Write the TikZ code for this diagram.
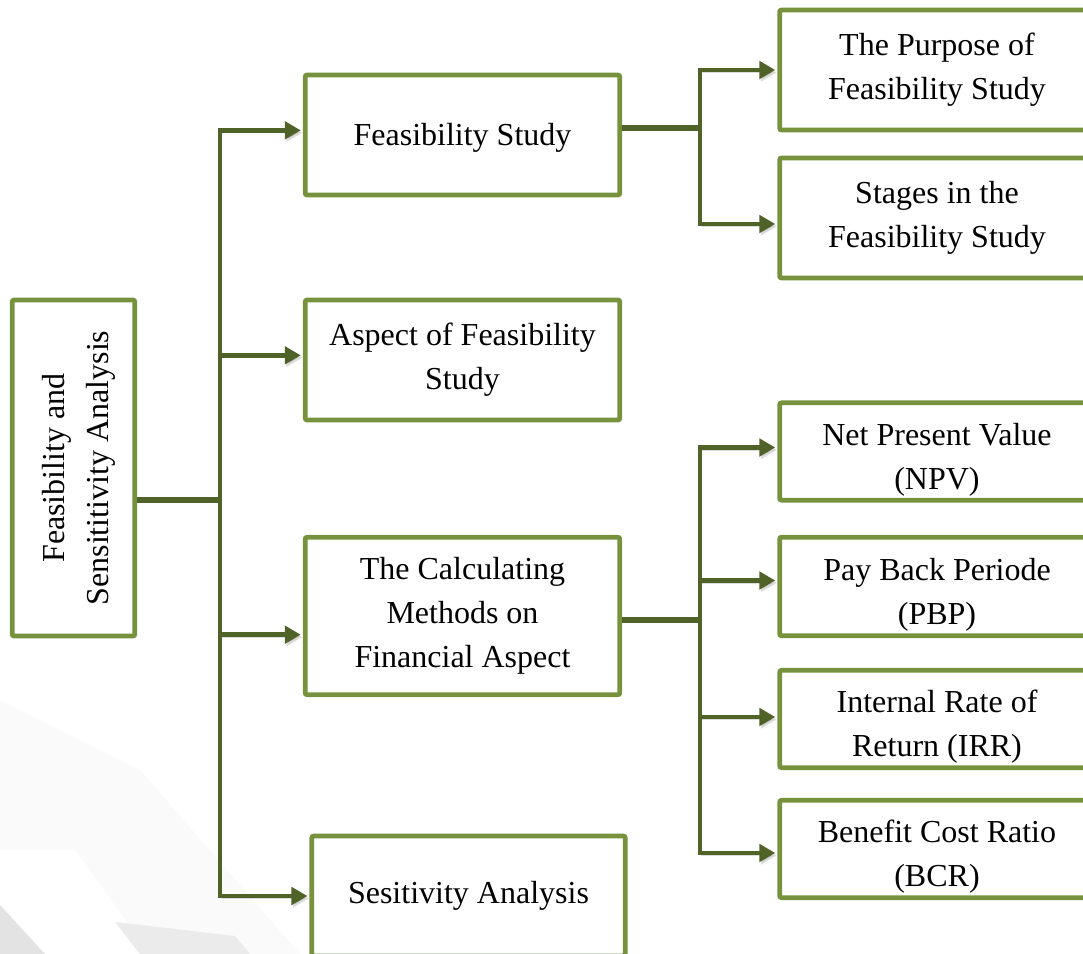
\documentclass[tikz,border=0pt]{standalone}
\usepackage{fontspec}
\setmainfont{Liberation Serif}
\usetikzlibrary{arrows.meta}
\definecolor{boxgreen}{HTML}{76923C}
\definecolor{linkgreen}{HTML}{4F6228}
\newcommand{\topgap}[1]{\rule{0pt}{#1}}
\tikzset{
  box/.style={draw=boxgreen, line width=3.6pt, fill=white, rounded corners=1.5pt,
    align=center, inner sep=2pt, font=\fontsize{24}{33}\selectfont},
  shadowed/.style={preaction={draw=black!45, opacity=.3,
    transform canvas={shift={(1.2pt,-1.8pt)}}}},
  link/.style={draw=linkgreen, line width=3.6pt, shadowed},
  arrowlink/.style={link, shorten >=1.5pt, -{Triangle[length=12pt,width=13pt]}},
  trunk/.style={draw=linkgreen, line width=4.6pt, shadowed},
}
\begin{document}
\begin{tikzpicture}[x=0.75pt,y=-0.75pt]
	\clip (0,0) rectangle (1083,954);
	\fill[white] (0,0) rectangle (1083,954);
	% faint backdrop, bottom left
	\fill[black!2] (0,700) -- (140,770) -- (300,954) -- (0,954) -- cycle;
	\fill[white] (0,850) -- (75,850) -- (150,954) -- (45,954) -- (0,905) -- cycle;
	\fill[black!11] (0,905) -- (45,954) -- (0,954) -- cycle;
	\fill[black!8] (115,922) -- (235,936) -- (250,954) -- (140,954) -- cycle;

	% boxes
	\node[box, rotate=90, minimum width=252pt, minimum height=92pt] (root) at (73.5,468) {\topgap{25pt}Feasibility and\\Sensititivity Analysis};
	\node[box, minimum width=236pt, minimum height=90pt] (fs) at (462.5,135) {\topgap{21pt}Feasibility Study};
	\node[box, minimum width=236pt, minimum height=90pt] (asp) at (462.5,360) {Aspect of Feasibility\\Study};
	\node[box, minimum width=236pt, minimum height=118pt] (calc) at (462.5,616) {The Calculating\\Methods on\\Financial Aspect};
	\node[box, minimum width=235pt, minimum height=90pt] (sens) at (468.5,896) {Sesitivity Analysis};
	\node[box, minimum width=236pt, minimum height=90pt] (purpose) at (937,70) {The Purpose of\\Feasibility Study};
	\node[box, minimum width=236pt, minimum height=90pt] (stages) at (937,218) {Stages in the\\Feasibility Study};
	\node[box, minimum width=236pt, minimum height=73pt] (npv) at (937,451.5) {\topgap{29pt}Net Present Value\\(NPV)};
	\node[box, minimum width=236pt, minimum height=74pt] (pbp) at (937,586.5) {\topgap{29pt}Pay Back Periode\\(PBP)};
	\node[box, minimum width=236pt, minimum height=73pt] (irr) at (937,719) {\topgap{29pt}Internal Rate of\\Return (IRR)};
	\node[box, minimum width=236pt, minimum height=73pt] (bcr) at (937,849) {\topgap{29pt}Benefit Cost Ratio\\(BCR)};

	% junctions
	\coordinate (j1) at (220,500);
	\coordinate (j2) at (700,128);
	\coordinate (j3) at (700,620);

	% first level
	\draw[trunk] (j1 -| root.south) -- (j1);
	\draw[arrowlink] (j1) |- ([yshift=3.5pt]fs.west);
	\draw[arrowlink] (j1) |- ([yshift=3.5pt]asp.west);
	\draw[arrowlink] (j1) |- ([yshift=-14pt]calc.west);
	\draw[arrowlink] (j1) |- (sens.west);

	% second level
	\draw[trunk] (j2 -| fs.east) -- (j2);
	\draw[arrowlink] (j2) |- (purpose.west);
	\draw[arrowlink] (j2) |- ([yshift=-4.5pt]stages.west);
	\draw[trunk] (j3 -| calc.east) -- (j3);
	\draw[arrowlink] (j3) |- ([yshift=3pt]npv.west);
	\draw[arrowlink] (j3) |- ([yshift=4.5pt]pbp.west);
	\draw[arrowlink] (j3) |- ([yshift=1.5pt]irr.west);
	\draw[arrowlink] (j3) |- ([yshift=-3pt]bcr.west);
\end{tikzpicture}
\end{document}
